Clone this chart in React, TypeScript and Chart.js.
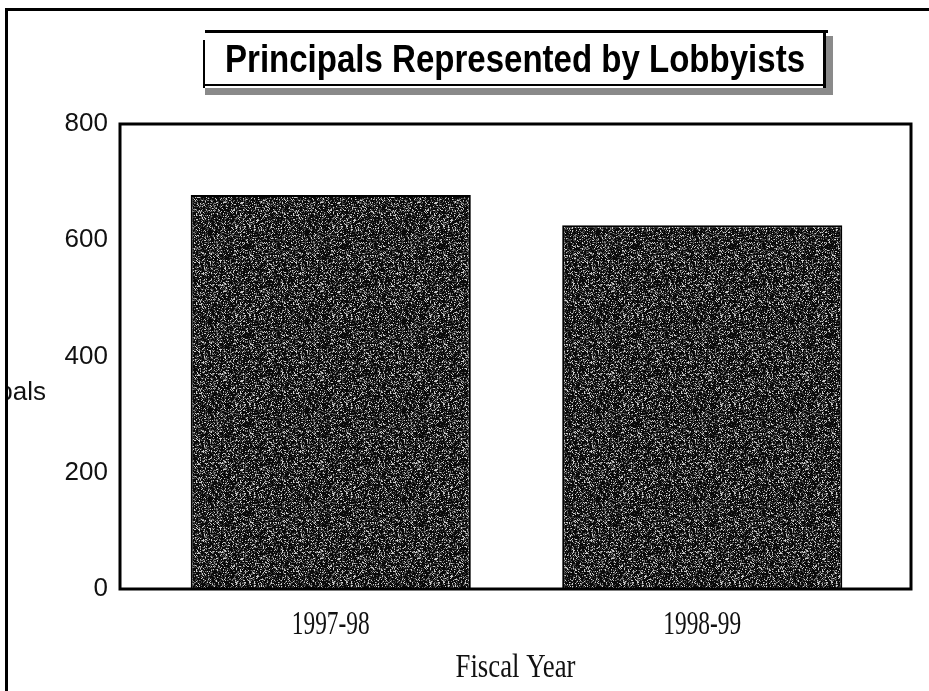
import React, { useEffect, useRef } from "react";
import { Chart, registerables } from "chart.js";

Chart.register(...registerables);

const categories = ["1997-98", "1998-99"];
const principals = [678, 626];
const yTickValues = [0, 200, 400, 600, 800];
const chartTitle = "Principals Represented by Lobbyists";
const xAxisTitle = "Fiscal Year";
const yAxisTitle = "Principals";

// plot frame extends beyond the category scale on each side
const FRAME_PAD_LEFT = 25;
const FRAME_PAD_RIGHT = 23;

function makeSpecklePattern(): CanvasPattern | string {
  const w = 97;
  const h = 89;
  const c = document.createElement("canvas");
  c.width = w;
  c.height = h;
  const g = c.getContext("2d");
  if (!g) return "#383838";
  const img = g.createImageData(w, h);
  let s = 20240601;
  for (let i = 0; i < w * h; i++) {
    s = (Math.imul(s, 1103515245) + 12345) >>> 0;
    const r = (s >>> 8) / 16777216;
    const v = r < 0.58 ? 10 : r < 0.78 ? 58 : r < 0.9 ? 125 : 205;
    img.data[i * 4] = v;
    img.data[i * 4 + 1] = v;
    img.data[i * 4 + 2] = v;
    img.data[i * 4 + 3] = 255;
  }
  g.putImageData(img, 0, 0);
  return g.createPattern(c, "repeat") || "#383838";
}

const decorPlugin = {
  id: "decor",
  afterDatasetsDraw(chart: any) {
    const { ctx, chartArea: a } = chart;
    const left = a.left - FRAME_PAD_LEFT;
    const right = a.right + FRAME_PAD_RIGHT;
    ctx.save();
    ctx.strokeStyle = "#000";
    ctx.lineWidth = 3;
    ctx.strokeRect(left, a.top, right - left, a.bottom - a.top);
    ctx.restore();
  },
  afterDraw(chart: any) {
    const { ctx, chartArea: a, scales } = chart;
    const xs = scales.x;
    const left = a.left - FRAME_PAD_LEFT;
    const right = a.right + FRAME_PAD_RIGHT;
    ctx.save();

    // x category labels (condensed serif)
    ctx.fillStyle = "#111";
    ctx.textAlign = "center";
    ctx.textBaseline = "alphabetic";
    ctx.font = "33px 'Liberation Serif'";
    categories.forEach((lab, i) => {
      ctx.fillText(lab, xs.getPixelForTick(i), a.bottom + 45, 78);
    });
    ctx.fillText(xAxisTitle, (left + right) / 2, a.bottom + 88, 120);

    // y axis title, clipped by the outer frame
    ctx.save();
    ctx.beginPath();
    ctx.rect(8, 0, 200, chart.height);
    ctx.clip();
    ctx.font = "26px 'Liberation Sans'";
    ctx.textAlign = "right";
    ctx.textBaseline = "middle";
    ctx.fillText(yAxisTitle, 46, (a.top + a.bottom) / 2 + 36);
    ctx.restore();

    // outer frame (top + left)
    ctx.fillStyle = "#000";
    ctx.fillRect(5, 8, chart.width - 5, 3);
    ctx.fillRect(5, 8, 3, chart.height - 8);

    // title box with shadow
    ctx.fillStyle = "#8a8a8a";
    ctx.fillRect(205, 88, 628, 7);
    ctx.fillRect(826, 36, 7, 59);
    ctx.fillStyle = "#fff";
    ctx.fillRect(205, 31, 621, 55);
    ctx.fillStyle = "#000";
    ctx.fillRect(205, 30, 623, 3);
    ctx.fillRect(823, 30, 3, 58);
    ctx.fillRect(205, 84, 620, 2);
    ctx.fillRect(203, 40, 2, 48);

    ctx.fillStyle = "#000";
    ctx.font = "bold 38px 'Liberation Sans'";
    ctx.textAlign = "center";
    ctx.textBaseline = "alphabetic";
    ctx.fillText(chartTitle, 515, 72, 580);

    ctx.restore();
  },
};

export default function App() {
  const canvasRef = useRef<HTMLCanvasElement | null>(null);

  useEffect(() => {
    const canvas = canvasRef.current;
    if (!canvas) return;
    const pattern = makeSpecklePattern();
    const chart = new Chart(canvas, {
      type: "bar",
      data: {
        labels: categories,
        datasets: [
          {
            label: yAxisTitle,
            data: principals,
            backgroundColor: pattern as any,
            borderColor: "#000",
            borderWidth: 2,
            barPercentage: 0.754,
            categoryPercentage: 1,
          },
        ],
      },
      options: {
        responsive: false,
        animation: false,
        devicePixelRatio: 1,
        layout: {
          padding: { top: 124, right: 18 + FRAME_PAD_RIGHT, bottom: 102, left: 0 },
        },
        plugins: {
          legend: { display: false },
          tooltip: { enabled: false },
          title: { display: false },
        },
        scales: {
          x: {
            grid: { display: false, drawTicks: false },
            border: { display: false },
            ticks: { display: false },
            afterFit(scale: any) {
              scale.height = 0;
            },
          },
          y: {
            min: 0,
            max: 800,
            grid: { display: false, drawTicks: false },
            border: { display: false },
            afterBuildTicks(scale: any) {
              scale.ticks = yTickValues.map((v) => ({ value: v }));
            },
            ticks: {
              padding: 12 + FRAME_PAD_LEFT,
              color: "#111",
              font: { family: "'Liberation Sans', Arial, sans-serif", size: 26 },
            },
            afterFit(scale: any) {
              scale.width = 120 + FRAME_PAD_LEFT;
            },
          },
        },
      },
      plugins: [decorPlugin],
    });
    return () => chart.destroy();
  }, []);

  return (
    <div
      style={{
        position: "fixed",
        left: 0,
        top: 0,
        width: 929,
        height: 691,
        background: "#fff",
      }}
    >
      <canvas ref={canvasRef} width={929} height={691} style={{ display: "block" }} />
    </div>
  );
}
